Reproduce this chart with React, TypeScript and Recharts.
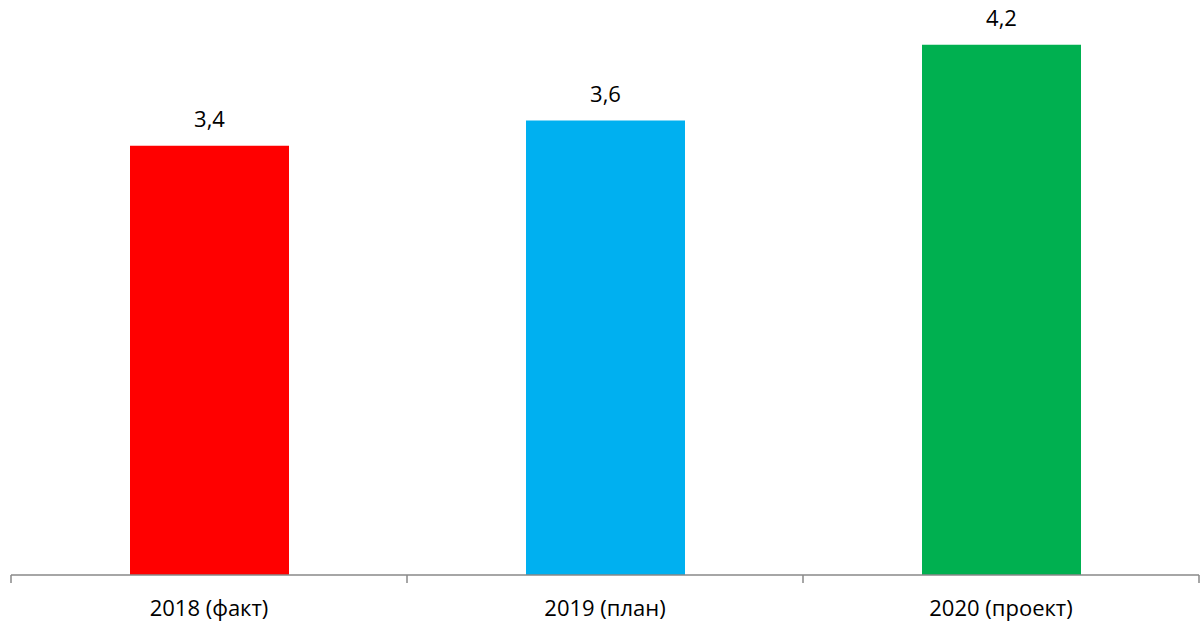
import React from 'react';
import { BarChart, Bar, XAxis, YAxis, Cell, LabelList } from 'recharts';

const categories = ['2018 (факт)', '2019 (план)', '2020 (проект)'];
const values = [3.4, 3.6, 4.2];
const barColors = ['#FF0000', '#00B0F0', '#00B050'];

const data = categories.map((name, i) => ({ name, value: values[i] }));

const font = "'Open Sans', sans-serif";
const axisGray = '#898989';
const TICK_SIZE = 8;
const TICK_MARGIN = 17;

// category label plus tick marks on the category boundaries (Excel style)
function BoundaryTick(props: any) {
  const { x, y, payload, index, visibleTicksCount } = props;
  const half = payload.offset || 0;
  const axisY = y - TICK_SIZE - TICK_MARGIN;
  const last = index === (visibleTicksCount ?? categories.length) - 1;
  return (
    <g>
      <line x1={x - half} x2={x - half} y1={axisY} y2={axisY + TICK_SIZE} stroke={axisGray} strokeWidth={1.5} />
      {last && (
        <line x1={x + half} x2={x + half} y1={axisY} y2={axisY + TICK_SIZE} stroke={axisGray} strokeWidth={1.5} />
      )}
      <text x={x} y={y} dy='0.71em' textAnchor='middle' fill='#000' fontSize={22} fontFamily={font}>
        {payload.value}
      </text>
    </g>
  );
}

export default function App() {
  return (
    <div style={{ position: 'absolute', left: 0, top: 0, width: 1201, height: 624, background: '#fff' }}>
      <BarChart
        width={1201}
        height={624}
        data={data}
        margin={{ top: 7, right: 2, left: 11, bottom: 0 }}
        barSize={159}
      >
        <XAxis
          dataKey='name'
          height={49}
          axisLine={{ stroke: axisGray, strokeWidth: 1.5 }}
          tickLine={false}
          tickSize={TICK_SIZE}
          tickMargin={TICK_MARGIN}
          interval={0}
          tick={<BoundaryTick />}
        />
        <YAxis hide domain={[0, 4.5]} />
        <Bar dataKey='value' isAnimationActive={false}>
          {data.map((d, i) => (
            <Cell key={d.name} fill={barColors[i]} />
          ))}
          <LabelList
            dataKey='value'
            position='top'
            offset={19}
            formatter={(v: number) => String(v).replace('.', ',')}
            style={{ fill: '#000', fontSize: 22, fontFamily: font }}
          />
        </Bar>
      </BarChart>
    </div>
  );
}
